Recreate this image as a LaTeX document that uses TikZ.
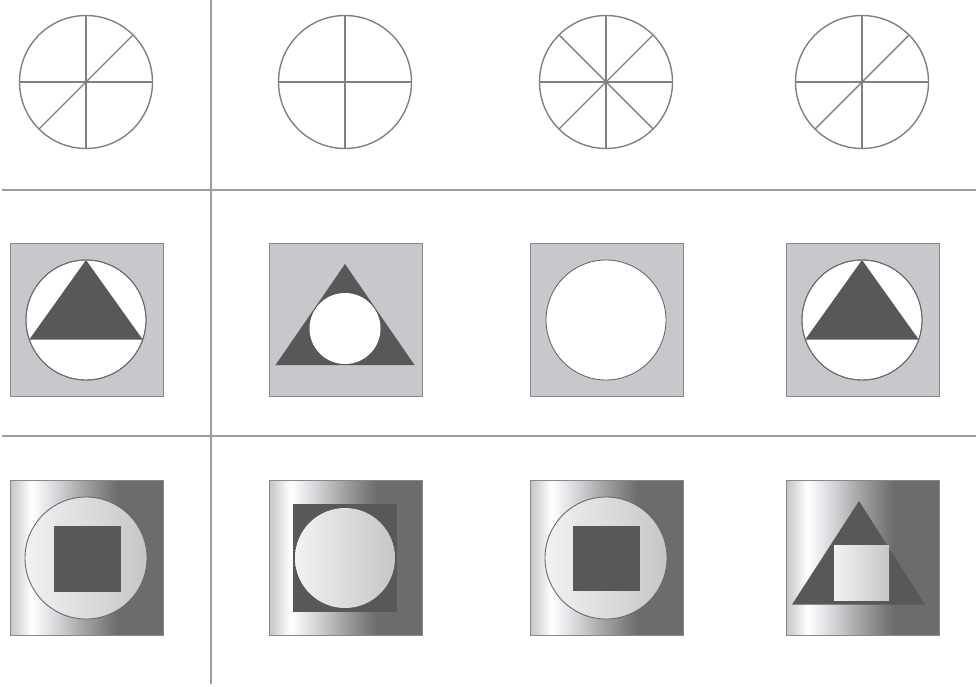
\documentclass[tikz,border=0pt]{standalone}
\usetikzlibrary{calc}
\definecolor{gridc}{HTML}{9C9C9C}
\definecolor{linec}{HTML}{808080}
\definecolor{midfill}{HTML}{C6C8CB}
\definecolor{boxborder}{HTML}{888888}
\definecolor{darkc}{HTML}{585858}
\definecolor{circborder}{HTML}{6A6A6A}
\definecolor{shL}{HTML}{C4C4C8}
\definecolor{shM}{HTML}{DCDCE0}
\definecolor{shN}{HTML}{A4A4A6}
\definecolor{shD}{HTML}{6C6C6C}
\definecolor{inL}{HTML}{F2F2F4}
\definecolor{inD}{HTML}{C6C6C8}
\pgfdeclarehorizontalshading{outershade}{100bp}{color(0bp)=(shL); color(25bp)=(shL); color(32bp)=(white); color(39bp)=(shM); color(49bp)=(shN); color(60bp)=(shD); color(100bp)=(shD)}
\pgfdeclarehorizontalshading{innershade}{100bp}{color(0bp)=(inL); color(25bp)=(inL); color(75bp)=(inD); color(100bp)=(inD)}
\tikzset{
  gridline/.style={draw=gridc, line width=2pt},
  wheel/.style={draw=linec, line width=1.4pt},
  midbox/.style={fill=midfill, draw=boxborder, line width=1pt},
  botbox/.style={shading=outershade, draw=boxborder, line width=1pt},
  darkshape/.style={fill=darkc, draw=none},
  whitecirc/.style={fill=white, draw=circborder, line width=0.9pt},
  lightcirc/.style={shading=innershade, draw=circborder, line width=0.9pt},
  lightshape/.style={shading=innershade, draw=none}
}
\begin{document}
\begin{tikzpicture}[x=1pt,y=-1pt]
\useasboundingbox (0,0) rectangle (976,687);
% grid
\coordinate (vt) at (211,0);
\coordinate (vb) at (211,684);
\coordinate (h1l) at (2,190);
\coordinate (h1r) at (976,190);
\coordinate (h2l) at (2,436);
\coordinate (h2r) at (976,436);
\draw[gridline] (vt) -- (vb);
\draw[gridline] (h1l) -- (h1r);
\draw[gridline] (h2l) -- (h2r);

% top row wheels
\def\R{66.5}
\def\D{47}
\foreach \cx/\kind in {86/1,345/2,606/3,862/1}{
  \coordinate (w) at (\cx,82);
  \draw[wheel] (w) circle[radius=\R];
  \draw[wheel] ($(w)+(0,-\R)$) -- ($(w)+(0,\R)$);
  \draw[wheel] ($(w)+(-\R,0)$) -- ($(w)+(\R,0)$);
  \ifnum\kind>2
    \draw[wheel] ($(w)+(-\D,-\D)$) -- ($(w)+(\D,\D)$);
  \fi
  \ifnum\kind=1
    \draw[wheel] ($(w)+(-\D,\D)$) -- ($(w)+(\D,-\D)$);
  \fi
  \ifnum\kind=3
    \draw[wheel] ($(w)+(-\D,\D)$) -- ($(w)+(\D,-\D)$);
  \fi
}

% middle row
% box 1
\draw[midbox] (10,243) rectangle (163,396);
\coordinate (m1) at (86,320);
\draw[whitecirc] (m1) circle[radius=60];
\fill[darkc] ($(m1)+(0,-60)$) -- ($(m1)+(-56.7,19.5)$) -- ($(m1)+(56.7,19.5)$) -- cycle;
\draw[circborder, line width=0.9pt] (m1) circle[radius=60];
% box 2
\draw[midbox] (269,243) rectangle (422,396);
\coordinate (m2) at (345,328.5);
\fill[darkc] (345,264) -- (275.5,365) -- (414.5,365) -- cycle;
\fill[white] (m2) circle[radius=35.5];
% box 3
\draw[midbox] (530,243) rectangle (683,396);
\coordinate (m3) at (606,320);
\draw[whitecirc] (m3) circle[radius=60];
% box 4
\draw[midbox] (786,243) rectangle (939,396);
\coordinate (m4) at (862,320);
\draw[whitecirc] (m4) circle[radius=60];
\fill[darkc] ($(m4)+(0,-60)$) -- ($(m4)+(-56.7,19.5)$) -- ($(m4)+(56.7,19.5)$) -- cycle;
\draw[circborder, line width=0.9pt] (m4) circle[radius=60];

% bottom row
% box 1
\draw[botbox] (10,480) rectangle (163,635);
\coordinate (b1) at (86,558);
\draw[lightcirc] (b1) circle[radius=61];
\fill[darkc] (54,526) rectangle (121,592);
% box 2
\draw[botbox] (269,480) rectangle (422,635);
\fill[darkc] (293,504) rectangle (397,612);
\coordinate (b2) at (345,558);
\shade[lightshape] (b2) circle[radius=50];
% box 3
\draw[botbox] (530,480) rectangle (683,635);
\coordinate (b3) at (606,558);
\draw[lightcirc] (b3) circle[radius=61];
\fill[darkc] (573,526) rectangle (640,591);
% box 4
\draw[botbox] (786,480) rectangle (939,635);
\fill[darkc] (859,501) -- (792,604.5) -- (925,604.5) -- cycle;
\shade[lightshape] (834,545) rectangle (889,600);
\end{tikzpicture}
\end{document}
